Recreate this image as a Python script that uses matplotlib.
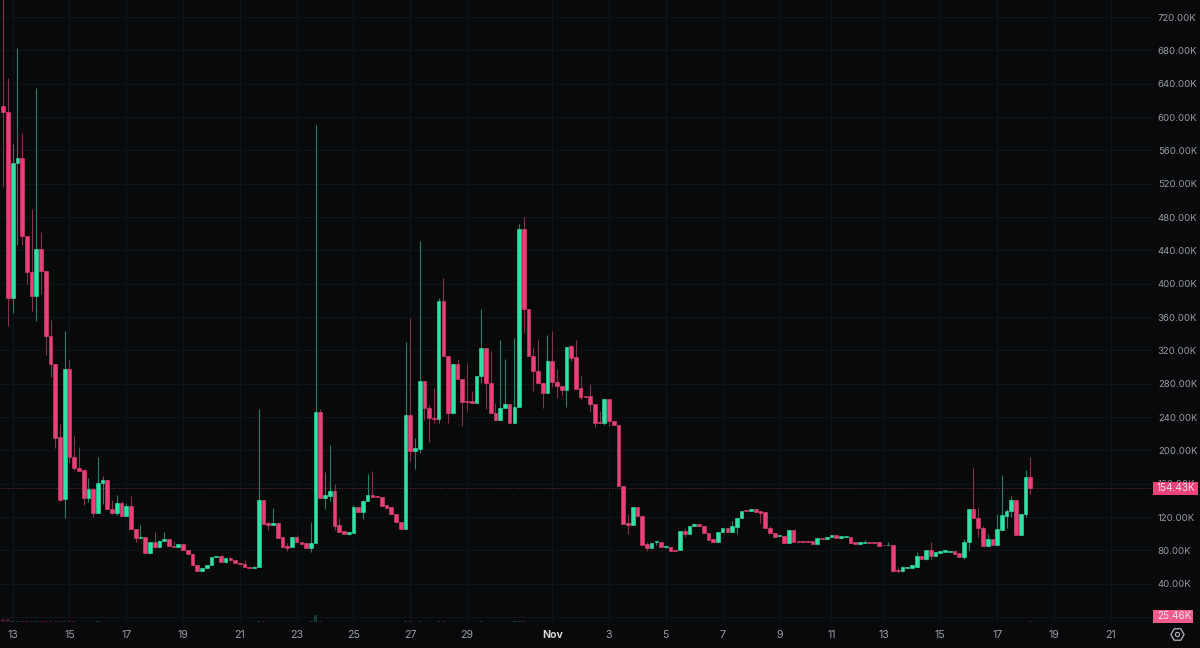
import matplotlib
matplotlib.use("Agg")
import matplotlib.pyplot as plt
from matplotlib.patches import Rectangle
import numpy as np

plt.rcParams['font.family'] = ['Inter', 'DejaVu Sans']

# 4h candles, values in thousands
opens = [613,606,383,545,551,457,414,385,442,415,337,304,216,142,298,192,179,176,143,154,
         125,161,165,130,125,137,121,133,106,95,96,77,90,84,91,94,85,84,88,80,
         76,62,55,59,63,72,73,66,71,68,65,64,60,59.5,60,140,113,110,113,96,
         85,84,96,90,89,83,89,246,143,145,151,110,103,100,101,132,126,139,146,145,
         144,134,132,124,114,106,242,199,202,283,251,239,238,379,313,245,304,286,259,259,
         257,289,323,281,245,236.5,251,256,233,252,466,370,313,295,281,269,307,282,277,272.5,
         325,312,275,265,265,256,234,233,262,235,230.5,157,113,110,132,121,88,83,90,90,
         84,84,81,80,103,100,109,112,109,101,94,90,102,107,102,108,119,128,127,130,
         127,126,107,101,97,97,89,104.5,91,91,91,91,88,95,94,96,98.5,95,96,96,
         90,88,89,90.5,90,90,87,86,86,57,55,59,59,60.5,73,70,80.5,73,77,78,
         78,79,77,72,90.5,130,119,107,85,94,86,105,121,127,140.5,99,124,168]
highs = [760,647,568,683,581,457,490,635,462,415,356,304,232,343,308,217,204,178,167,154,
         192,169,165,140,146,139,137,145,106,110,96,90,102,92,102,94,91,88,88,80,
         76,62,59,63,72,73,74,71,72,68,65,68,60,61,250,140,115,131,113,96,
         89,96,98.5,90,89,114,590,250,174,206.5,160,119,103,102,134.5,132,140.5,172,175,145,
         144,134,132,124,114,330,359,215,451,283,254.5,275,383,407,313,304,310,286,305,271,
         289,370,323,319,257,332.5,310,256,335,472,480,370,324,332.5,281,338.5,343,298,277,324,
         326,332.5,289,265,280,256,247,262,262,235,230.5,157,124,132,132,122,90,89,91.5,90,
         85,84,81,103,107,109,112,112,109,101,94,102,107,107,115,119,127,128,130,130,
         127,126,109,101,98,97,104.5,104.5,91,91,91,91,95,95,96,98.5,98.5,97,97,96,
         90,90,92.5,90.5,90,90,87,90,86,60,61,60.5,62,78,73,80.5,90,78,79,80,
         79,79,77,94,130,179,131,109,100,94,124,170.5,130,145,140.5,124,176.5,192]
lows = [516,349,365,446,446,400,367,355,388,314,288,203,139,119,185,176.5,175,134,138,120,
        125,136,130,124,122,121,121,106,90,95,77,77,83,83,91,85,84,84,80,76,
        62,55,55,59,63,72,66,65,68,65,63.5,60,59.5,59.5,60,112,104.5,110,95,84,
        79,84,90,88,83,78,89,143,130,139,104.5,102,100,98.5,101,126,118,139,144,144,
        133,131,124,114,106,106,187,178,197,236.5,210,233,233,313,233,245,286,229,247,257,
        257,281,250,245,236.5,236.5,251,233,233,252,341,313,271,281,251,269,276,263,266.5,252,
        307,274,260.5,264,246,228,233,230.5,229,230,157,112,100,110,121,87,79,83,86.5,84,
        83,79,79,80,96,100,109,109,101,92.5,90,90,102,102,102,100,119,127,127,126,
        113,107,101,96,97,89,89,90,90,90,90,88,88,94,94,96,95,95,96,89,
        88,88,89,89.5,89,85,86,86,54,53,54,59,59,60.5,70,68.5,70,73,77,78,
        78,76,72.5,70,80,119,96,85,85,86,86,105,107,120,99,99,120,147.5]
closes = [606,383,545,551,457,414,385,442,415,337,304,215,140,298,192,179,175,143,154,125,
          161,165,130,125,137,121,133,106,95,96,77,90,84,91,94,85,84,88,80.5,76,
          62.5,55,59,63,72,73,66,71,68,65,63.5,60,59.5,60.5,140,112,110.5,113,95,84,
          83,96,90,88,83,89,246,143,146.5,151,109,102,100,102,132,126,139,146.5,144,144,
          133,131,124,114,106,242.5,199,203,283,251,239,238,379,313,245,304,286,258,258,257,
          289,323,281,245,236.5,251,256,233,252,466,370,313,295,281,269,307,282,277,272.5,324,
          311,274,264,264,256,233,233,262,235,230.5,157,112,110,132,121,87,83,89,91.5,84,
          85,79,79,103,100,109,112,109,101,92.5,90,102,107,102,109,119,127,127,130,126,
          125,107,101,96,98,89,104.5,90,90,90,90,88,95,94,96,98.5,95,97,97,89,
          88,90,90.5,89.5,89,85,86,87,55,55,60,60.5,62,73,70,80.5,73,78,79,80,
          79,76,72.5,90.5,130,119,107,85,94,86,106,122,127,141,99,124,168,154.43]

# volume bars, thousands
volumes = [14,12,6,6,5,3,3,5,3,3,3,3,3,5,3,3,2,2,2,2,
           3,2,2,2,2,2,2,2,2,2,2,2,2,2,2,2,2,2,2,2,
           2,2,2,2,2,2,2,2,2,2,2,2,2,2,6,3,2,2,2,2,
           2,2,2,2,2,3,32,5,2,2,2,2,2,2,2,2,2,2,2,2,
           2,2,2,2,2,5,5,2,5,2,2,2,3,3,2,2,2,2,2,2,
           2,3,2,2,2,2,2,2,3,5,5,2,2,2,2,2,2,2,2,2,
           2,2,2,2,2,2,2,2,2,2,2,2,2,2,2,2,2,2,2,2,
           2,2,2,2,2,2,2,2,2,2,2,2,2,2,2,2,2,2,2,2,
           2,2,2,2,2,2,2,2,2,2,2,2,2,2,2,2,2,2,2,2,
           2,2,2,2,2,2,2,2,2,2,2,2,2,2,2,2,2,2,2,2,
           2,2,2,2,2,2,2,2,2,2,2,2,2,2,2,2,2,3]

price_ticks = [40,80,120,160,200,240,280,320,360,400,440,480,520,560,600,640,680,720]
date_ticks = [2,14,26,38,50,62,74,86,98,116,128,140,152,164,175,186,198,210,222,234]
date_labels = ['13','15','17','19','21','23','25','27','29','Nov','3','5','7','9','11','13','15','17','19','21']
last_price = 154.43
last_price_label = '154.43K'
last_volume_label = '25.46K'

bg = '#08090b'
grid_col = '#111417'
up = '#2fe3a8'
down = '#e8407a'
up_wick = '#2b7f66'
down_wick = '#84304f'
label_col = '#9a9da1'

fig = plt.figure(figsize=(12, 6.48), dpi=100, facecolor=bg)
ax = fig.add_axes([0, 26/648, 1152/1200, 622/648], facecolor=bg)

idx = np.arange(len(opens))
o = np.array(opens, dtype=float)
h = np.array(highs, dtype=float)
l = np.array(lows, dtype=float)
c = np.array(closes, dtype=float)
is_up = c >= o

ax.vlines(idx[is_up], l[is_up], h[is_up], color=up_wick, lw=0.8, zorder=3)
ax.vlines(idx[~is_up], l[~is_up], h[~is_up], color=down_wick, lw=0.8, zorder=3)
ax.bar(idx[is_up], (c-o)[is_up], bottom=o[is_up], width=0.78, color=up, edgecolor=up, lw=0.4, zorder=4)
ax.bar(idx[~is_up], (c-o)[~is_up], bottom=o[~is_up], width=0.78, color=down, edgecolor=down, lw=0.4, zorder=4)

ax.set_xlim(-0.676, 242.72)
ax.set_ylim(-5.9, 740.5)
ax.yaxis.tick_right()
ax.set_yticks(price_ticks)
ax.set_yticklabels(['%.2fK' % t for t in price_ticks])
ax.set_xticks(date_ticks)
ax.set_xticklabels(date_labels)
ax.tick_params(axis='y', length=0, pad=4.2, labelsize=6.9, labelcolor=label_col)
ax.tick_params(axis='x', length=0, pad=5.5, labelsize=7.6, labelcolor=label_col)
for lab in ax.get_xticklabels():
    if lab.get_text() == 'Nov':
        lab.set_fontweight('bold')
        lab.set_color('#d4d6d8')
ax.grid(True, color=grid_col, lw=0.8)
ax.set_axisbelow(True)
ax.axhline(0, color=grid_col, lw=0.8, zorder=1)
for s in ax.spines.values():
    s.set_visible(False)

# last price line and the two pink labels
ax.axhline(last_price, color='#7a2c49', lw=0.7, ls=(0, (1, 1.6)), zorder=2)
trans = ax.get_yaxis_transform()
ax.add_patch(Rectangle((1.0005, last_price-7.8), 0.0395, 15.6, transform=trans, color='#e8447c', clip_on=False, zorder=8, lw=0))
ax.text(1.0043, last_price, last_price_label, transform=trans, color='#f5dfe7', fontsize=7.2, va='center', ha='left', zorder=9, clip_on=False)
ax.add_patch(Rectangle((1.0005, -6.7), 0.0355, 15.2, transform=trans, color='#ee5c8c', clip_on=False, zorder=8, lw=0))
ax.text(1.0043, 0.9, last_volume_label, transform=trans, color='#f5dfe7', fontsize=7.2, va='center', ha='left', zorder=9, clip_on=False)

# volume pane
vol_ax = fig.add_axes([0, 26/648, 1152/1200, 12/648], facecolor='none')
vol_ax.bar(idx, volumes, width=0.72, color=np.where(is_up, up, down), alpha=0.25, lw=0)
vol_ax.set_xlim(ax.get_xlim())
vol_ax.set_ylim(0, 54.5)
vol_ax.axis('off')

# settings icon
icon = fig.add_axes([0, 0, 1, 1], facecolor='none')
icon.set_xlim(0, 1200)
icon.set_ylim(648, 0)
icon.axis('off')
icon.plot([1177], [634], marker='H', ms=9.5, mfc='none', mec='#b4b6b9', mew=0.9)
icon.plot([1177], [634], marker='o', ms=3, mfc='none', mec='#b4b6b9', mew=0.8)

fig.savefig('out.png', dpi=100, facecolor=bg)
